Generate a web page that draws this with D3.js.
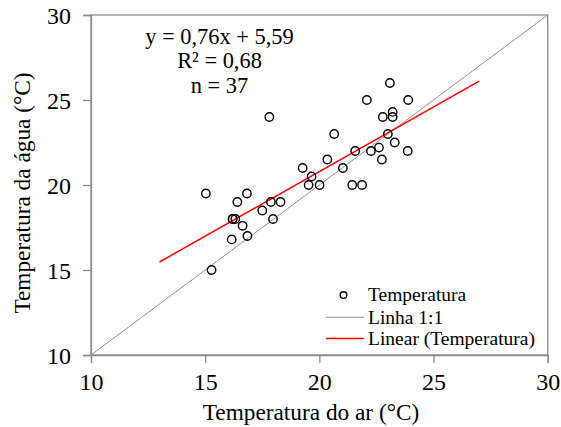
<!DOCTYPE html>
<html><head><meta charset="utf-8">
<script src="https://cdn.jsdelivr.net/npm/d3@7"></script>
<style>body{margin:0;background:#fff}</style>
</head><body>
<svg id="c" width="561" height="427" font-family="'Liberation Serif', 'Times New Roman', Times, serif"></svg>
<script>
const airTemp = [17.81,15.03,16.83,16.41,16.20,16.32,16.20,16.64,16.16,16.85,17.50,17.88,18.30,17.97,15.28,19.27,19.66,19.53,20.01,20.35,20.65,21.03,21.44,21.87,21.57,22.08,22.26,22.61,22.74,22.78,23.21,23.21,23.09,23.00,23.30,23.89,23.87];
const waterTemp = [24.0,19.5,19.5,19.0,18.0,18.0,18.0,17.6,16.8,17.0,18.5,19.0,19.0,18.0,15.0,21.0,20.5,20.0,20.0,21.5,23.0,21.0,20.0,20.0,22.0,25.0,22.0,22.2,21.5,24.0,24.3,24.0,26.0,23.0,22.5,25.0,22.0];
const fit = {slope:0.76, intercept:5.59, xStart:13, xEnd:27};
const xTicks = [10,15,20,25,30];
const yTicks = [10,15,20,25,30];
const statLines = ["y = 0,76x + 5,59","R² = 0,68","n = 37"];
const legendItems = ["Temperatura","Linha 1:1","Linear (Temperatura)"];

const FONT = "'Liberation Serif', 'Times New Roman', Times, serif";
const svg = d3.select("#c");
const L=91, R=547.7, T=15, B=355;
const x = d3.scaleLinear().domain([10,30]).range([L,R]);
const y = d3.scaleLinear().domain([10,30]).range([B,T]);
const gray="#8c8c8c";

svg.append("rect").attr("x",L).attr("y",T).attr("width",R-L).attr("height",B-T)
  .attr("fill","none").attr("stroke",gray).attr("stroke-width",1.3);

const xa = svg.append("g").attr("transform",`translate(0,${B})`)
  .call(d3.axisBottom(x).tickValues(xTicks).tickSize(8).tickFormat(d3.format("d")));
const ya = svg.append("g").attr("transform",`translate(${L},0)`)
  .call(d3.axisLeft(y).tickValues(yTicks).tickSize(8).tickFormat(d3.format("d")));
[xa,ya].forEach(a=>{
  a.attr("font-family",FONT).attr("font-size",24);
  a.select(".domain").attr("stroke",gray).attr("stroke-width",1.3);
  a.selectAll(".tick line").attr("stroke",gray).attr("stroke-width",1.3);
  a.selectAll(".tick text").attr("fill","#000");
});
xa.selectAll(".tick text").attr("dy",null).attr("y",35);
ya.selectAll(".tick text").attr("x",-20).attr("dy","0.34em");

svg.append("line").attr("x1",x(10)).attr("y1",y(10)).attr("x2",x(30)).attr("y2",y(30))
  .attr("stroke","#909090").attr("stroke-width",1);
svg.append("line").attr("x1",x(fit.xStart)).attr("y1",y(fit.slope*fit.xStart+fit.intercept))
  .attr("x2",x(fit.xEnd)).attr("y2",y(fit.slope*fit.xEnd+fit.intercept))
  .attr("stroke","#ff0000").attr("stroke-width",1.5);

svg.append("g").selectAll("circle").data(airTemp.map((d,i)=>[d,waterTemp[i]])).join("circle")
  .attr("cx",d=>x(d[0])).attr("cy",d=>y(d[1])).attr("r",4.2)
  .attr("fill","none").attr("stroke","#000").attr("stroke-width",1.4);

svg.append("g").selectAll("text").data(statLines).join("text")
  .attr("x",219.5).attr("y",(d,i)=>43.5+i*24.7).attr("text-anchor","middle")
  .attr("font-family",FONT).attr("font-size",22.4).text(d=>d);

svg.append("text").attr("x",311).attr("y",420).attr("text-anchor","middle")
  .attr("font-family",FONT).attr("font-size",23.3).text("Temperatura do ar (°C)");
svg.append("text").attr("transform","translate(30,193) rotate(-90)").attr("text-anchor","middle")
  .attr("font-family",FONT).attr("font-size",23.3).text("Temperatura da água (°C)");

const lg = svg.append("g");
const ly = [295,317.3,338.5];
lg.append("circle").attr("cx",343.5).attr("cy",ly[0]).attr("r",3.3).attr("fill","none").attr("stroke","#000").attr("stroke-width",1.4);
lg.append("line").attr("x1",326).attr("x2",364).attr("y1",ly[1]).attr("y2",ly[1]).attr("stroke","#909090").attr("stroke-width",1);
lg.append("line").attr("x1",326).attr("x2",364).attr("y1",ly[2]).attr("y2",ly[2]).attr("stroke","#ff0000").attr("stroke-width",1.5);
lg.selectAll("text").data(legendItems).join("text")
  .attr("x",368).attr("y",(d,i)=>ly[i]+6.2).attr("font-family",FONT).attr("font-size",19.5).text(d=>d);
</script>
</body></html>
